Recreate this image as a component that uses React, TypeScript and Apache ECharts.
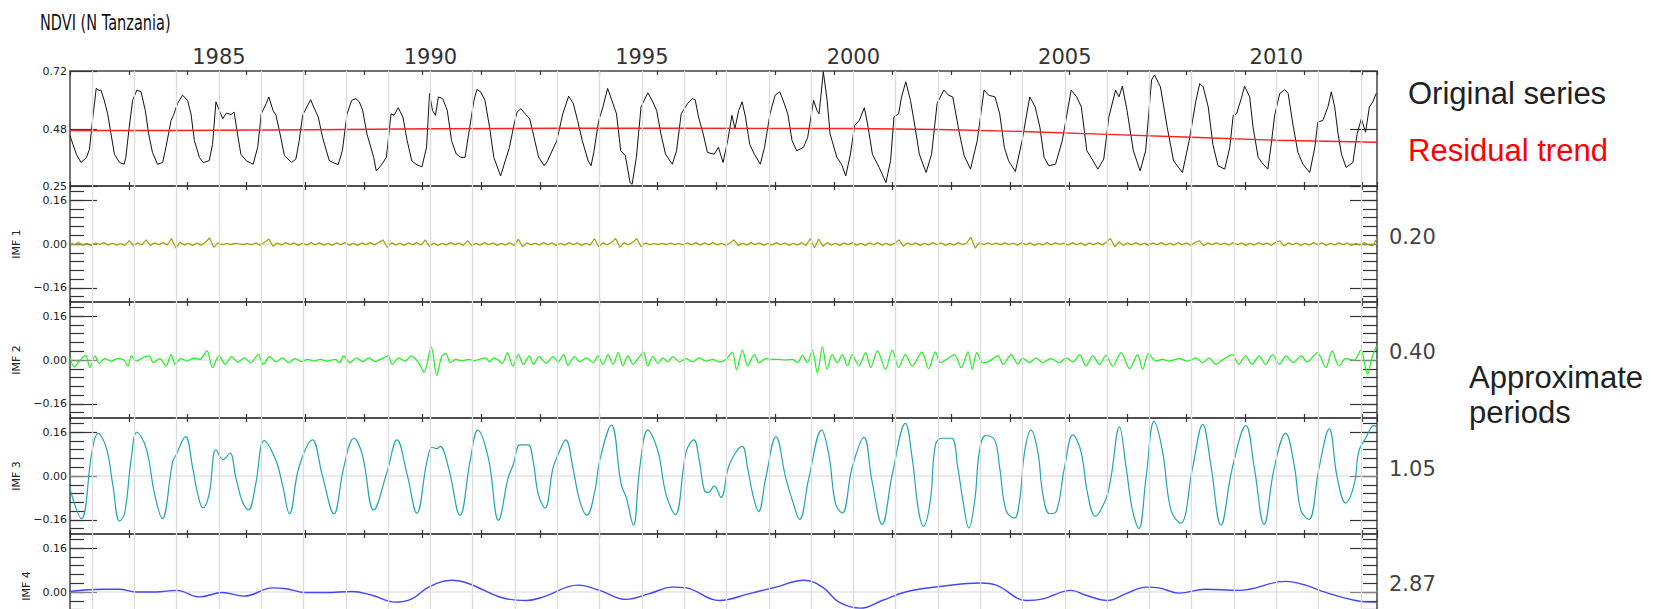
import React, { useEffect, useRef } from "react";
import * as echarts from "echarts";

// ---------- data ----------
const X_MIN = 1981.48;
const X_MAX = 2012.38;
const X_TICK_STEP = 1.389;
const YEAR_LINES = [1982, 1983, 1984, 1985, 1986, 1987, 1988, 1989, 1990, 1991, 1992, 1993, 1994, 1995, 1996, 1997, 1998, 1999, 2000, 2001, 2002, 2003, 2004, 2005, 2006, 2007, 2008, 2009, 2010, 2011, 2012];
const YEAR_LABELS = [1985, 1990, 1995, 2000, 2005, 2010];
const NDVI_TICKS = [0.25, 0.48, 0.72];
const IMF_MAJOR = [-0.16, 0, 0.16];
const IMF_LAST_VISIBLE_LABELS = [0, 0.16];
const IMF_MINOR = [-0.192, -0.16, -0.128, -0.096, -0.064, -0.032, 0, 0.032, 0.064, 0.096, 0.128, 0.16, 0.192];
const IMF_NAMES = ["IMF 1", "IMF 2", "IMF 3", "IMF 4"];
const PERIODS = ["0.20", "0.40", "1.05", "2.87"];

const ORIGINAL: [number, number][] = [
  [1981.48,0.456],[1981.55,0.42],[1981.63,0.38],[1981.74,0.346],[1981.87,0.367],[1981.94,0.40],[1982.02,0.53],[1982.1,0.649],[1982.17,0.64],[1982.21,0.643],[1982.29,0.60],[1982.37,0.545],[1982.45,0.463],[1982.53,0.38],[1982.65,0.346],[1982.76,0.339],[1982.8,0.367],[1982.88,0.49],[1982.96,0.60],
  [1983.06,0.642],[1983.16,0.635],[1983.26,0.559],[1983.34,0.463],[1983.43,0.387],[1983.55,0.339],[1983.67,0.346],[1983.75,0.41],[1983.87,0.518],[1983.94,0.545],[1984.02,0.587],[1984.14,0.621],[1984.26,0.60],[1984.34,0.545],[1984.42,0.436],[1984.54,0.367],[1984.63,0.346],[1984.77,0.353],[1984.85,0.42],[1984.93,0.594],
  [1985.01,0.559],[1985.09,0.525],[1985.18,0.548],[1985.29,0.542],[1985.36,0.552],[1985.44,0.463],[1985.52,0.38],[1985.65,0.353],[1985.81,0.339],[1985.92,0.41],[1986.0,0.545],[1986.12,0.587],[1986.18,0.614],[1986.28,0.559],[1986.35,0.539],[1986.43,0.477],[1986.55,0.374],[1986.72,0.346],[1986.82,0.36],[1986.9,0.436],[1986.98,0.539],
  [1987.08,0.573],[1987.17,0.603],[1987.24,0.573],[1987.35,0.532],[1987.45,0.449],[1987.61,0.353],[1987.82,0.337],[1987.92,0.395],[1988.03,0.545],[1988.14,0.60],[1988.24,0.607],[1988.32,0.594],[1988.4,0.559],[1988.5,0.463],[1988.66,0.367],[1988.72,0.312],[1988.83,0.333],[1988.96,0.367],
  [1989.07,0.545],[1989.14,0.539],[1989.24,0.57],[1989.35,0.532],[1989.45,0.436],[1989.56,0.353],[1989.66,0.339],[1989.8,0.328],[1989.91,0.408],[1989.98,0.628],[1990.05,0.559],[1990.12,0.539],[1990.19,0.614],[1990.29,0.607],[1990.4,0.559],[1990.5,0.436],[1990.61,0.381],[1990.72,0.367],[1990.82,0.367],[1990.93,0.49],
  [1991.03,0.60],[1991.1,0.644],[1991.19,0.635],[1991.29,0.60],[1991.4,0.49],[1991.5,0.367],[1991.66,0.291],[1991.77,0.353],[1991.87,0.408],[1991.98,0.504],[1992.05,0.552],[1992.14,0.566],[1992.24,0.545],[1992.35,0.525],[1992.45,0.449],[1992.56,0.367],[1992.69,0.333],[1992.77,0.353],[1992.99,0.436],
  [1993.13,0.545],[1993.27,0.617],[1993.38,0.587],[1993.48,0.518],[1993.59,0.436],[1993.73,0.353],[1993.8,0.333],[1993.87,0.394],[1993.98,0.518],[1994.08,0.573],[1994.19,0.649],[1994.29,0.60],[1994.4,0.545],[1994.5,0.394],[1994.61,0.374],[1994.72,0.264],[1994.77,0.257],[1994.87,0.367],[1994.98,0.573],
  [1995.14,0.631],[1995.24,0.60],[1995.35,0.559],[1995.45,0.463],[1995.56,0.38],[1995.72,0.339],[1995.82,0.394],[1995.93,0.545],[1996.08,0.587],[1996.19,0.607],[1996.26,0.603],[1996.34,0.532],[1996.45,0.463],[1996.55,0.387],[1996.71,0.38],[1996.81,0.408],[1996.92,0.346],
  [1997.03,0.436],[1997.13,0.539],[1997.2,0.484],[1997.29,0.559],[1997.37,0.594],[1997.45,0.532],[1997.55,0.42],[1997.66,0.38],[1997.8,0.339],[1997.9,0.408],[1998.03,0.545],[1998.15,0.621],[1998.26,0.635],[1998.34,0.60],[1998.45,0.545],[1998.55,0.436],[1998.66,0.394],[1998.82,0.408],[1998.92,0.449],
  [1999.06,0.60],[1999.14,0.559],[1999.19,0.545],[1999.29,0.717],[1999.38,0.60],[1999.45,0.463],[1999.61,0.367],[1999.72,0.339],[1999.82,0.291],[1999.93,0.38],[2000.03,0.497],[2000.14,0.518],[2000.26,0.57],[2000.35,0.49],[2000.45,0.38],[2000.61,0.326],[2000.77,0.264],[2000.88,0.353],[2000.96,0.532],
  [2001.07,0.545],[2001.14,0.614],[2001.24,0.676],[2001.35,0.60],[2001.46,0.49],[2001.56,0.38],[2001.72,0.305],[2001.85,0.38],[2001.98,0.587],[2002.14,0.642],[2002.25,0.621],[2002.35,0.614],[2002.51,0.463],[2002.62,0.374],[2002.77,0.319],[2002.93,0.436],
  [2003.09,0.642],[2003.2,0.621],[2003.35,0.614],[2003.46,0.545],[2003.57,0.408],[2003.67,0.353],[2003.83,0.309],[2003.99,0.436],[2004.17,0.614],[2004.3,0.573],[2004.41,0.49],[2004.51,0.367],[2004.62,0.333],[2004.78,0.339],[2004.94,0.436],
  [2005.15,0.642],[2005.28,0.614],[2005.39,0.573],[2005.52,0.394],[2005.62,0.367],[2005.78,0.319],[2005.92,0.36],[2006.04,0.532],[2006.2,0.642],[2006.28,0.614],[2006.36,0.658],[2006.47,0.559],[2006.62,0.394],[2006.78,0.312],[2006.91,0.394],
  [2007.05,0.683],[2007.12,0.704],[2007.26,0.655],[2007.42,0.49],[2007.57,0.353],[2007.78,0.305],[2007.94,0.436],[2008.1,0.60],[2008.19,0.669],[2008.27,0.655],[2008.39,0.573],[2008.5,0.42],[2008.62,0.333],[2008.78,0.319],[2008.9,0.408],[2008.98,0.539],
  [2009.06,0.545],[2009.17,0.607],[2009.25,0.658],[2009.37,0.614],[2009.45,0.49],[2009.57,0.367],[2009.69,0.339],[2009.8,0.319],[2009.88,0.422],[2009.96,0.539],[2010.08,0.628],[2010.2,0.644],[2010.28,0.628],[2010.39,0.504],[2010.51,0.387],[2010.63,0.339],[2010.79,0.305],[2010.91,0.408],[2010.98,0.511],
  [2011.1,0.518],[2011.22,0.573],[2011.3,0.635],[2011.38,0.573],[2011.46,0.463],[2011.54,0.38],[2011.65,0.326],[2011.81,0.346],[2011.91,0.463],[2012.01,0.525],[2012.11,0.47],[2012.2,0.573],[2012.28,0.594],[2012.36,0.628]
];

const TREND: [number, number][] = [
  [1981.48,0.477],[1984,0.477],[1986.2,0.479],[1988,0.481],[1990,0.484],[1993,0.486],[1996,0.486],[2000,0.485],[2002,0.481],[2004,0.473],[2006,0.461],[2008,0.449],[2010,0.437],[2012.38,0.429]
];

// IMF 1: one row per year, sampled every 0.1 year from X_MIN
const IMF1_STEP = 0.1;
const IMF1: number[] = [
  0.004,-0.003,0.005,-0.004,0.003,-0.006,0.004,-0.002,0.005,-0.004,
  0.003,-0.004,0.002,-0.005,0.012,-0.006,0.004,-0.003,0.015,-0.005,
  0.004,-0.003,0.005,-0.004,0.02,-0.015,0.006,-0.004,0.003,-0.005,
  0.004,-0.005,0.006,0.022,-0.012,0.004,-0.003,0.002,-0.002,0.002,
  0.001,-0.002,0.002,-0.003,0.004,-0.005,0.006,0.018,-0.008,0.004,
  -0.004,0.005,-0.003,0.004,-0.005,0.003,-0.004,0.005,-0.003,0.004,
  -0.004,0.003,-0.005,0.004,-0.003,0.005,-0.004,0.003,-0.005,0.004,
  -0.003,0.005,-0.004,0.006,0.015,-0.012,0.005,-0.004,0.003,-0.005,
  0.004,-0.003,0.005,-0.004,0.015,-0.01,0.004,-0.005,0.003,-0.004,
  0.005,-0.003,0.004,-0.005,0.012,-0.006,0.003,-0.004,0.005,-0.003,
  0.004,-0.005,0.003,-0.004,0.005,-0.006,0.018,-0.01,0.004,-0.003,
  0.003,-0.004,0.005,-0.003,0.004,-0.005,0.003,-0.004,0.005,-0.003,
  0.004,-0.005,0.003,-0.004,0.02,-0.01,0.005,-0.004,0.006,0.02,
  -0.012,0.005,-0.004,0.006,0.02,-0.01,0.004,-0.003,0.002,-0.002,
  0.002,-0.002,0.003,-0.002,0.002,-0.003,0.004,-0.003,0.005,-0.004,
  0.004,-0.003,0.005,-0.004,0.003,-0.005,0.004,0.015,-0.006,0.003,
  -0.004,0.005,-0.003,0.004,-0.005,0.003,-0.004,0.005,-0.003,0.004,
  -0.005,0.003,-0.004,0.005,-0.006,0.02,-0.015,0.018,-0.008,0.005,
  -0.004,0.003,-0.005,0.004,-0.003,0.005,-0.004,0.003,-0.005,0.004,
  -0.003,0.005,-0.004,0.003,-0.005,0.004,0.015,-0.008,0.004,-0.003,
  0.004,-0.005,0.003,-0.004,0.005,-0.003,0.004,-0.005,0.003,-0.004,
  0.005,-0.003,0.004,0.025,-0.015,0.005,-0.003,0.004,-0.002,0.003,
  -0.003,0.004,-0.002,0.003,-0.004,0.005,-0.003,0.004,-0.005,0.003,
  -0.004,0.005,-0.003,0.004,-0.002,0.003,-0.004,0.005,-0.003,0.004,
  -0.005,0.004,-0.003,0.005,-0.004,0.006,0.02,-0.01,0.008,-0.005,
  0.004,-0.003,0.005,-0.004,0.003,-0.005,0.004,-0.003,0.005,-0.004,
  0.003,-0.004,0.005,-0.003,0.004,-0.005,0.006,0.012,-0.006,0.004,
  -0.003,0.004,-0.002,0.003,-0.004,0.005,-0.003,0.004,-0.005,0.003,
  -0.004,0.005,-0.003,0.004,-0.005,0.006,0.012,-0.007,0.004,-0.003,
  0.004,-0.005,0.003,-0.004,0.005,-0.003,0.004,-0.005,0.003,-0.004,
  0.005,-0.003,0.004,-0.005,0.003,-0.004,0.005,-0.003,-0.006,0.02
];

const IMF2: [number, number][] = [
  [1981.48,0.008],[1981.58,-0.025],[1981.72,0.0],[1981.85,0.017],[1981.95,-0.028],[1982.07,0.015],[1982.17,-0.013],[1982.3,0.005],[1982.45,-0.004],[1982.6,0.005],[1982.75,0],[1982.85,-0.022],[1982.93,0.015],
  [1983.05,-0.004],[1983.2,0.008],[1983.35,0.015],[1983.45,-0.01],[1983.6,0.005],[1983.75,-0.022],[1983.87,0.02],[1983.97,-0.016],[1984.1,0.005],[1984.25,-0.004],[1984.4,0.008],[1984.55,0.002],[1984.72,0.033],[1984.85,-0.028],
  [1985.0,0.015],[1985.15,-0.016],[1985.3,0.012],[1985.45,-0.008],[1985.6,0.008],[1985.75,-0.01],[1985.93,0.02],[1986.05,-0.016],[1986.2,0.012],[1986.35,-0.007],[1986.5,0.008],[1986.65,-0.01],[1986.8,0.005],[1986.95,-0.006],
  [1987.1,0.002],[1987.25,-0.004],[1987.4,0.002],[1987.55,-0.004],[1987.75,0.002],[1987.85,-0.01],[1987.95,0.015],[1988.1,-0.01],[1988.25,0.008],[1988.4,-0.006],[1988.55,0.008],[1988.7,-0.006],[1988.85,0.005],
  [1989.0,0.015],[1989.1,-0.016],[1989.25,0.008],[1989.4,-0.004],[1989.55,0.015],[1989.72,-0.01],[1989.85,-0.046],[1990.02,0.048],[1990.15,-0.056],[1990.27,0.015],[1990.37,0.023],[1990.47,-0.01],[1990.6,0.002],[1990.75,-0.003],[1990.9,0.002],
  [1991.05,-0.002],[1991.2,0.005],[1991.3,0.008],[1991.4,-0.007],[1991.5,0.008],[1991.6,0],[1991.7,-0.012],[1991.82,0.027],[1991.95,-0.022],[1992.08,0.02],[1992.2,-0.016],[1992.34,0.015],[1992.44,-0.016],[1992.57,0.012],[1992.74,-0.012],[1992.9,0.012],
  [1993.02,-0.007],[1993.15,0.02],[1993.25,-0.02],[1993.41,0.012],[1993.53,-0.007],[1993.69,0.008],[1993.85,-0.01],[1993.96,0.015],[1994.08,-0.016],[1994.2,0.02],[1994.32,-0.016],[1994.44,0.027],[1994.55,-0.022],[1994.67,0.015],[1994.79,-0.016],[1994.91,0.005],
  [1995.04,0.029],[1995.14,-0.022],[1995.26,0.012],[1995.38,-0.012],[1995.5,0.008],[1995.61,-0.007],[1995.73,0.012],[1995.89,-0.007],[1996.05,0.005],[1996.2,-0.007],[1996.36,0.008],[1996.52,-0.004],[1996.67,0.002],[1996.83,-0.007],[1996.99,0.002],
  [1997.14,0.029],[1997.24,-0.036],[1997.38,0.036],[1997.5,-0.022],[1997.66,0.02],[1997.77,-0.01],[1997.93,0.005],[1998.09,0.002],[1998.25,0.002],[1998.4,0],[1998.56,0.002],[1998.68,-0.01],[1998.8,0.017],[1998.91,-0.01],
  [1999.03,0.036],[1999.15,-0.048],[1999.27,0.048],[1999.38,-0.034],[1999.5,0.02],[1999.62,-0.01],[1999.74,0.02],[1999.86,-0.022],[1999.97,0.02],[2000.13,-0.022],[2000.29,0.027],[2000.41,-0.028],[2000.57,0.033],[2000.76,-0.034],[2000.92,0.036],
  [2001.07,-0.028],[2001.23,0.02],[2001.39,-0.022],[2001.62,0.029],[2001.78,-0.032],[2001.94,0.029],[2002.06,-0.01],[2002.2,0.002],[2002.39,0.02],[2002.55,-0.028],[2002.71,0.03],[2002.81,-0.034],[2002.92,0.027],
  [2003.06,-0.01],[2003.22,-0.004],[2003.42,0.015],[2003.54,-0.016],[2003.73,0.02],[2003.89,-0.016],[2004.0,0.008],[2004.16,-0.01],[2004.32,0.008],[2004.47,-0.01],[2004.67,0.005],[2004.87,-0.01],
  [2005.03,0.008],[2005.19,-0.007],[2005.35,0.02],[2005.5,-0.022],[2005.66,0.015],[2005.82,-0.016],[2005.97,0.017],[2006.13,-0.022],[2006.33,0.027],[2006.53,-0.032],[2006.72,0.02],[2006.84,-0.034],[2006.98,0.024],
  [2007.15,-0.004],[2007.31,0.002],[2007.46,-0.004],[2007.7,0.005],[2007.9,-0.004],[2008.1,0.008],[2008.26,-0.01],[2008.41,0.008],[2008.57,-0.016],[2008.72,0],[2008.96,0.02],
  [2009.11,-0.016],[2009.27,0.015],[2009.43,-0.016],[2009.59,0.015],[2009.75,-0.016],[2009.91,0.02],[2010.07,-0.016],[2010.23,0.015],[2010.39,-0.01],[2010.59,0.015],[2010.73,-0.007],[2010.97,0.027],
  [2011.17,-0.028],[2011.32,0.033],[2011.48,-0.022],[2011.64,0.005],[2011.84,0],[2012.0,0.036],[2012.1,-0.022],[2012.16,-0.052],[2012.25,0.002],[2012.37,0.051]
];

const IMF3: [number, number][] = [
  [1981.47,-0.042],[1981.75,-0.156],[1982.0,0.09],[1982.14,0.156],[1982.34,0.102],[1982.49,-0.03],[1982.65,-0.165],[1982.77,-0.138],[1982.93,0.066],
  [1983.06,0.16],[1983.28,0.102],[1983.48,-0.066],[1983.66,-0.156],[1983.91,0.054],[1983.99,0.078],[1984.21,0.144],[1984.38,0.03],[1984.5,-0.066],[1984.62,-0.117],[1984.77,-0.066],[1984.93,0.096],
  [1985.1,0.06],[1985.26,0.084],[1985.4,-0.006],[1985.56,-0.096],[1985.7,-0.124],[1985.87,-0.03],[1986.07,0.129],[1986.34,0.06],[1986.5,-0.03],[1986.67,-0.138],[1986.89,0.03],
  [1987.21,0.132],[1987.44,0.006],[1987.72,-0.138],[1987.95,0.03],[1988.19,0.138],[1988.39,0.078],[1988.66,-0.124],[1988.98,0.018],
  [1989.21,0.132],[1989.45,0.006],[1989.68,-0.136],[1989.92,0.054],[1990.04,0.105],[1990.15,0.1],[1990.23,0.108],[1990.43,0.03],[1990.7,-0.144],[1990.94,0.054],
  [1991.12,0.168],[1991.37,0.066],[1991.61,-0.162],[1991.84,-0.006],[1991.96,0.042],[1992.12,0.114],[1992.31,0.114],[1992.43,0.054],[1992.55,-0.066],[1992.71,-0.117],[1992.9,0.03],
  [1993.02,0.078],[1993.2,0.132],[1993.37,0.03],[1993.53,-0.09],[1993.7,-0.144],[1993.89,-0.054],[1994.0,0.054],[1994.28,0.186],[1994.51,-0.03],[1994.63,-0.078],[1994.8,-0.18],[1994.95,0.03],
  [1995.14,0.168],[1995.38,0.09],[1995.57,-0.066],[1995.79,-0.141],[1996.05,0.09],[1996.23,0.132],[1996.36,0.054],[1996.48,-0.054],[1996.58,-0.06],[1996.71,-0.036],[1996.87,-0.078],
  [1997.07,0.042],[1997.37,0.108],[1997.5,0.03],[1997.62,-0.066],[1997.76,-0.13],[1997.93,-0.006],[1998.17,0.144],[1998.4,-0.006],[1998.56,-0.09],[1998.73,-0.159],[1998.95,-0.006],
  [1999.25,0.168],[1999.42,0.078],[1999.58,-0.102],[1999.74,-0.135],[1999.97,0.03],[2000.25,0.141],[2000.44,-0.018],[2000.68,-0.177],[2000.92,0.006],
  [2001.23,0.192],[2001.39,0.066],[2001.54,-0.126],[2001.66,-0.184],[2001.82,-0.09],[2001.94,0.114],[2002.09,0.138],[2002.32,0.138],[2002.47,0.03],[2002.59,-0.09],[2002.73,-0.19],[2002.87,-0.09],[2002.98,0.09],
  [2003.13,0.148],[2003.34,0.132],[2003.46,0.03],[2003.61,-0.126],[2003.81,-0.154],[2003.93,-0.09],[2004.05,0.09],[2004.2,0.168],[2004.36,0.09],[2004.48,-0.066],[2004.64,-0.138],[2004.79,-0.132],[2004.99,0.03],
  [2005.19,0.15],[2005.38,0.09],[2005.54,-0.066],[2005.72,-0.147],[2005.97,-0.084],[2006.09,-0.006],[2006.29,0.18],[2006.45,0.03],[2006.6,-0.126],[2006.75,-0.192],[2006.92,-0.006],
  [2007.11,0.2],[2007.31,0.09],[2007.51,-0.126],[2007.74,-0.172],[2008.02,0.03],[2008.26,0.189],[2008.45,0.042],[2008.69,-0.18],[2008.96,0.03],
  [2009.28,0.184],[2009.48,0.03],[2009.71,-0.177],[2009.95,0.03],[2010.22,0.156],[2010.42,0.042],[2010.58,-0.126],[2010.77,-0.159],
  [2011.01,0.03],[2011.25,0.172],[2011.44,-0.006],[2011.64,-0.099],[2011.84,-0.03],[2011.95,0.09],[2012.11,0.138],[2012.31,0.184],[2012.37,0.18]
];

const IMF4: [number, number][] = [
  [1981.47,0.002],[1982.26,0.01],[1982.65,0.01],[1983.04,0],[1983.51,0],[1984.0,0.006],[1984.54,-0.018],[1985.08,-0.002],[1985.6,-0.015],[1986.27,0.015],[1986.59,0.012],
  [1987.05,-0.002],[1987.52,-0.002],[1988.15,0.002],[1988.62,-0.012],[1989.17,-0.037],[1989.56,-0.025],[1989.96,0.018],[1990.51,0.043],[1990.9,0.031],[1991.72,-0.022],
  [1992.27,-0.031],[1992.67,-0.018],[1993.49,0.025],[1994.0,0.006],[1994.63,-0.027],[1995.18,-0.006],[1995.73,0.018],[1996.05,0.015],[1996.83,-0.031],
  [1997.54,-0.006],[1998.17,0.018],[1998.83,0.043],[1999.27,0.018],[1999.66,-0.037],[2000.17,-0.059],[2000.68,-0.031],[2001.23,0],[2002.1,0.021],
  [2003.0,0.033],[2003.38,0.025],[2004.09,-0.031],[2004.48,-0.025],[2005.15,0.006],[2005.5,-0.012],[2006.01,-0.031],[2006.45,-0.006],[2006.92,0.018],
  [2007.23,0.015],[2007.7,-0.004],[2008.33,0.01],[2009.12,0.006],[2010.22,0.039],[2010.69,0.025],[2011.09,0.002],[2011.87,-0.031],[2012.36,-0.037]
];

// ---------- layout / style ----------
const PLOT_LEFT = 70;
const PLOT_WIDTH = 1307;
const PANEL_TOPS = [71, 186, 302, 418, 534];
const PANEL_HEIGHTS = [115, 116, 116, 116, 116];
const CHART_HEIGHT = 660;
const IMF_RANGE = 0.212;
const IMF_COLORS = ["#a8a000", "#22ee22", "#20a8a8", "#4444ff"];
const LABEL_FONT = "DejaVu Sans";
const TEXT_FONT = '"Liberation Sans", Arial, sans-serif';

function fmt(v: number): string {
  return v < 0 ? "\u2212" + Math.abs(v).toFixed(2) : v.toFixed(2);
}

function buildOption() {
  const grid: any[] = [];
  const xAxis: any[] = [];
  const yAxis: any[] = [];
  const series: any[] = [];

  const imfData: [number, number][][] = [
    IMF1.map((v, i) => [X_MIN + i * IMF1_STEP, v] as [number, number]),
    IMF2,
    IMF3,
    IMF4,
  ];

  for (let g = 0; g < 5; g++) {
    grid.push({
      left: PLOT_LEFT,
      top: PANEL_TOPS[g],
      width: PLOT_WIDTH,
      height: PANEL_HEIGHTS[g],
      show: true,
      borderColor: "#444",
      borderWidth: 1.5,
      backgroundColor: "transparent",
    });

    const dataX = xAxis.length;
    xAxis.push({
      type: "value",
      gridIndex: g,
      min: X_MIN,
      max: X_MAX,
      position: g === 0 ? "top" : "bottom",
      axisLine: { show: false, onZero: false },
      axisTick: { show: false },
      splitLine: { show: false },
      axisLabel:
        g === 0
          ? {
              show: true,
              customValues: YEAR_LABELS,
              formatter: (v: number) => String(Math.round(v)),
              fontSize: 21,
              fontFamily: LABEL_FONT,
              color: "#333",
              margin: 4,
            }
          : { show: false },
    });
    for (const pos of ["bottom", "top"]) {
      xAxis.push({
        type: "value",
        gridIndex: g,
        min: 0,
        max: X_MAX - X_MIN,
        interval: X_TICK_STEP,
        position: pos,
        axisLine: { show: false, onZero: false },
        axisTick: { show: true, inside: true, length: 4, lineStyle: { color: "#333", width: 1.2 } },
        axisLabel: { show: false },
        splitLine: { show: false },
      });
    }

    const isTop = g === 0;
    const isLast = g === 4;
    const yMin = isTop ? 0.25 : -IMF_RANGE;
    const yMax = isTop ? 0.72 : IMF_RANGE;
    const major = isTop ? NDVI_TICKS : IMF_MAJOR;
    const labelled = isTop ? NDVI_TICKS : isLast ? IMF_LAST_VISIBLE_LABELS : IMF_MAJOR;

    const leftY = yAxis.length;
    yAxis.push({
      type: "value",
      gridIndex: g,
      min: yMin,
      max: yMax,
      position: "left",
      name: isTop || isLast ? "" : IMF_NAMES[g - 1],
      nameLocation: "middle",
      nameRotate: 90,
      nameGap: 38,
      nameTextStyle: { fontSize: 11, fontFamily: LABEL_FONT, color: "#222" },
      axisLine: { show: false, onZero: false },
      splitLine: { show: false },
      axisTick: { show: true, inside: true, length: 27, customValues: major, lineStyle: { color: "#333", width: 1.2 } },
      axisLabel: { show: true, customValues: labelled, formatter: fmt, fontSize: 11, fontFamily: LABEL_FONT, color: "#222", margin: 3 },
    });
    yAxis.push({
      type: "value",
      gridIndex: g,
      min: yMin,
      max: yMax,
      position: "right",
      axisLine: { show: false, onZero: false },
      splitLine: { show: false },
      axisTick: { show: true, inside: true, length: 27, customValues: major, lineStyle: { color: "#333", width: 1.2 } },
      axisLabel: { show: false },
    });
    if (!isTop) {
      for (const pos of ["left", "right"]) {
        yAxis.push({
          type: "value",
          gridIndex: g,
          min: yMin,
          max: yMax,
          position: pos,
          axisLine: { show: false, onZero: false },
          splitLine: { show: false },
          axisTick: { show: true, inside: true, length: 14, customValues: IMF_MINOR, lineStyle: { color: "#333", width: 1.2 } },
          axisLabel: { show: false },
        });
      }
    }

    // background: zero line + year grid lines
    series.push({
      type: "line",
      xAxisIndex: dataX,
      yAxisIndex: leftY,
      data: isTop ? [[X_MIN, 0.48], [X_MAX, 0.48]] : [[X_MIN, 0], [X_MAX, 0]],
      symbol: "none",
      silent: true,
      z: 1,
      lineStyle: { color: "#d8d8d8", width: 1.2, opacity: isTop ? 0 : 1 },
      markLine: {
        silent: true,
        symbol: ["none", "none"],
        label: { show: false },
        lineStyle: { color: "#dcdcdc", width: 1.3, type: "solid" },
        data: YEAR_LINES.map((y) => ({ xAxis: y })),
      },
    });

    if (isTop) {
      series.push({
        type: "line",
        xAxisIndex: dataX,
        yAxisIndex: leftY,
        data: ORIGINAL,
        symbol: "none",
        z: 3,
        lineStyle: { color: "#111", width: 1 },
      });
      series.push({
        type: "line",
        xAxisIndex: dataX,
        yAxisIndex: leftY,
        data: TREND,
        symbol: "none",
        z: 4,
        lineStyle: { color: "#ff2020", width: 1.4 },
      });
    } else {
      const k = g - 1;
      series.push({
        type: "line",
        xAxisIndex: dataX,
        yAxisIndex: leftY,
        data: imfData[k],
        symbol: "none",
        z: 3,
        smooth: k === 0 ? false : k === 1 ? 0.3 : 0.4,
        lineStyle: { color: IMF_COLORS[k], width: k === 3 ? 1.4 : 1.2 },
      });
    }
  }

  const graphic: any[] = [
    { type: "text", x: 40, y: 22, scaleX: 0.66, style: { text: "NDVI (N Tanzania)", font: `22px "${LABEL_FONT}"`, fill: "#111", verticalAlign: "middle", textVerticalAlign: "middle" } },
    { type: "text", x: 1408, y: 93, style: { text: "Original series", font: `31px ${TEXT_FONT}`, fill: "#222", verticalAlign: "middle", textVerticalAlign: "middle" } },
    { type: "text", x: 1408, y: 150, style: { text: "Residual trend", font: `31px ${TEXT_FONT}`, fill: "#ff0000", verticalAlign: "middle", textVerticalAlign: "middle" } },
    { type: "text", x: 1469, y: 377, style: { text: "Approximate", font: `31px ${TEXT_FONT}`, fill: "#222", verticalAlign: "middle", textVerticalAlign: "middle" } },
    { type: "text", x: 1469, y: 412, style: { text: "periods", font: `31px ${TEXT_FONT}`, fill: "#222", verticalAlign: "middle", textVerticalAlign: "middle" } },
    // last panel's name, lifted slightly so it stays inside the picture
    { type: "text", x: 26, y: 586, rotation: Math.PI / 2, style: { text: IMF_NAMES[3], font: `11px "${LABEL_FONT}"`, fill: "#222", align: "center", textAlign: "center", verticalAlign: "middle", textVerticalAlign: "middle" } },
  ];
  const periodY = [237, 352, 469, 584];
  PERIODS.forEach((p, i) => {
    graphic.push({ type: "text", x: 1389, y: periodY[i], style: { text: p, font: `21px "${LABEL_FONT}"`, fill: "#444", verticalAlign: "middle", textVerticalAlign: "middle" } });
  });

  return {
    animation: false,
    backgroundColor: "#fff",
    grid,
    xAxis,
    yAxis,
    series,
    graphic,
  };
}

export default function App() {
  const ref = useRef<HTMLDivElement>(null);
  useEffect(() => {
    document.body.style.margin = "0";
    document.body.style.overflow = "hidden";
    document.documentElement.style.overflow = "hidden";
    if (!ref.current) return;
    const chart = echarts.init(ref.current, undefined, { renderer: "svg" });
    chart.setOption(buildOption() as any);
    return () => chart.dispose();
  }, []);
  return <div ref={ref} style={{ position: "absolute", left: 0, top: 0, width: 1654, height: CHART_HEIGHT }} />;
}
